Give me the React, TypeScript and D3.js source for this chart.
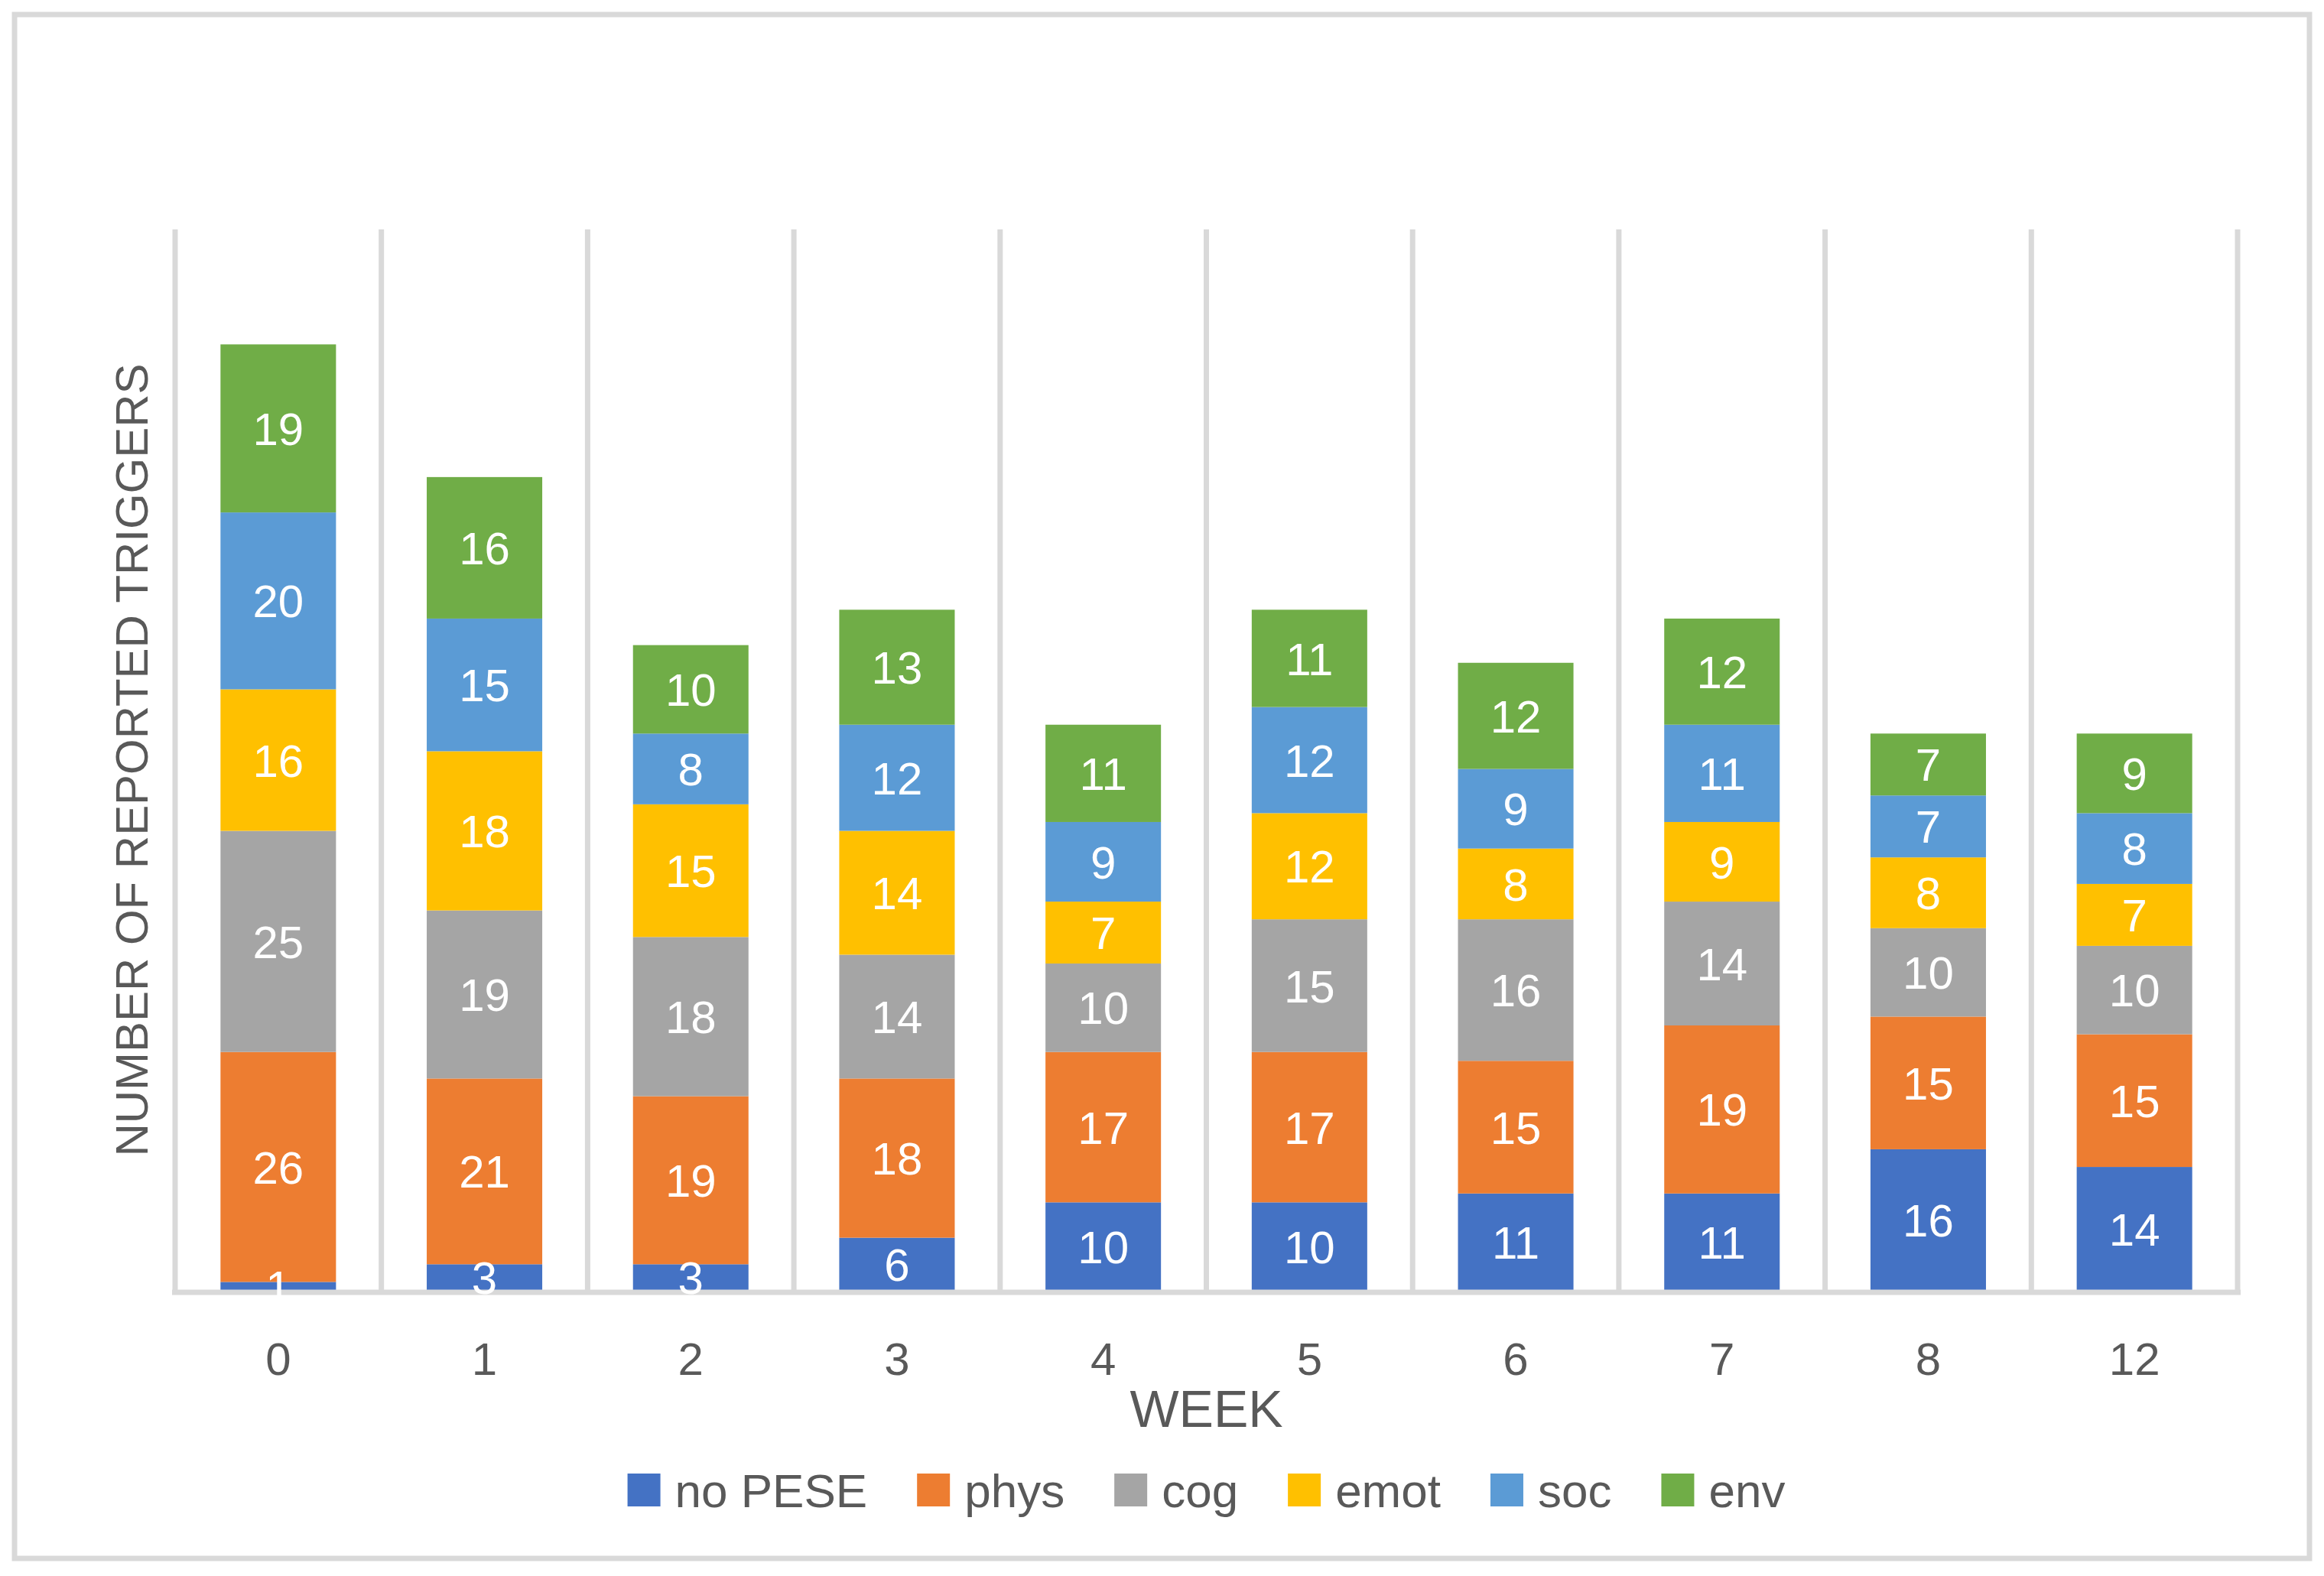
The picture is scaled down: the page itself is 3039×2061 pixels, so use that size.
import * as d3 from "d3";
import { useRef, useLayoutEffect, useState } from "react";

// chart values
const weeks = ["0", "1", "2", "3", "4", "5", "6", "7", "8", "12"];
const seriesNames = ["no PESE", "phys", "cog", "emot", "soc", "env"];
const seriesColors = ["#4472C4", "#ED7D31", "#A5A5A5", "#FFC000", "#5B9BD5", "#70AD47"];

const noPese = [1, 3, 3, 6, 10, 10, 11, 11, 16, 14];
const phys = [26, 21, 19, 18, 17, 17, 15, 19, 15, 15];
const cog = [25, 19, 18, 14, 10, 15, 16, 14, 10, 10];
const emot = [16, 18, 15, 14, 7, 12, 8, 9, 8, 7];
const soc = [20, 15, 8, 12, 9, 12, 9, 11, 7, 8];
const env = [19, 16, 10, 13, 11, 11, 12, 12, 7, 9];

const yMax = 120;
const xTitle = "WEEK";
const yTitle = "NUMBER OF REPORTED TRIGGERS";

const width = 3039;
const height = 2061;
const marginLeft = 229;
const marginRight = 113;
const marginTop = 300;
const marginBottom = 373;

const font = "'Liberation Sans Narrow', 'Liberation Sans', 'Open Sans', sans-serif";
const gridColor = "#D9D9D9";
const textColor = "#595959";

export default function App() {
  const legendRef = useRef<SVGGElement | null>(null);
  const [legendX, setLegendX] = useState<number[]>(seriesNames.map((_, i) => 810 + i * 260));

  const allSeries = [noPese, phys, cog, emot, soc, env];
  const table = weeks.map((w, i) => {
    const row: Record<string, number | string> = { week: w };
    seriesNames.forEach((s, j) => (row[s] = allSeries[j][i]));
    return row;
  });
  const stacked = d3.stack<Record<string, number | string>>().keys(seriesNames)(table as any);

  const x = d3
    .scaleBand()
    .domain(weeks)
    .range([marginLeft, width - marginRight])
    .paddingInner(0.44)
    .paddingOuter(0.22);
  const band = d3.scaleBand().domain(weeks).range([marginLeft, width - marginRight]);

  const y = d3.scaleLinear().domain([0, yMax]).range([height - marginBottom, marginTop]);

  const swatch = 43;
  const swGap = 19;
  const itemGap = 65;

  useLayoutEffect(() => {
    if (!legendRef.current) return;
    const texts = Array.from(legendRef.current.querySelectorAll("text")) as SVGTextElement[];
    const widths = texts.map((t) => t.getComputedTextLength());
    const total = d3.sum(widths) + seriesNames.length * (swatch + swGap) + (seriesNames.length - 1) * itemGap;
    let cx = (marginLeft + width - marginRight) / 2 - total / 2;
    const xs: number[] = [];
    widths.forEach((w) => {
      xs.push(cx);
      cx += swatch + swGap + w + itemGap;
    });
    const changed = xs.some((v, i) => Math.abs(v - legendX[i]) > 0.5);
    if (changed) setLegendX(xs);
  });

  const baseY = y(0);

  return (
    <svg
      width={width}
      height={height}
      style={{ position: "absolute", left: 0, top: 0, background: "#fff" }}
      fontFamily={font}
    >
      <rect x={0} y={0} width={width} height={height} fill="#fff" />
      {/* outer chart border */}
      <rect x={19} y={19} width={3001} height={2019} fill="none" stroke={gridColor} strokeWidth={7} />

      {/* vertical gridlines between categories */}
      <g stroke={gridColor} strokeWidth={7}>
        {weeks.map((w) => (
          <line key={w} x1={band(w)!} x2={band(w)!} y1={marginTop} y2={baseY} />
        ))}
        <line x1={width - marginRight} x2={width - marginRight} y1={marginTop} y2={baseY} />
      </g>

      {/* bars */}
      {stacked.map((layer, j) => (
        <g key={layer.key} fill={seriesColors[j]}>
          {layer.map((d, i) => (
            <rect
              key={i}
              x={x(weeks[i])!}
              width={x.bandwidth()}
              y={y(d[1])}
              height={y(d[0]) - y(d[1])}
            />
          ))}
        </g>
      ))}

      {/* baseline */}
      <line x1={marginLeft - 4} x2={width - marginRight + 4} y1={baseY + 2} y2={baseY + 2} stroke={gridColor} strokeWidth={7} />

      {/* data labels */}
      {stacked.map((layer, j) => (
        <g key={layer.key} fill="#fff" fontSize={60} textAnchor="middle">
          {layer.map((d, i) => (
            <text key={i} x={x(weeks[i])! + x.bandwidth() / 2} y={(y(d[0]) + y(d[1])) / 2} dy="0.36em">
              {allSeries[j][i]}
            </text>
          ))}
        </g>
      ))}

      {/* category tick labels */}
      <g fill={textColor} fontSize={60} textAnchor="middle">
        {weeks.map((w) => (
          <text key={w} x={band(w)! + band.bandwidth() / 2} y={1776} dy="0.36em">
            {w}
          </text>
        ))}
      </g>

      {/* axis titles */}
      <text x={(marginLeft + width - marginRight) / 2} y={1842} dy="0.36em" fill={textColor} fontSize={68} textAnchor="middle">
        {xTitle}
      </text>
      <text
        transform={`translate(171,${(marginTop + baseY) / 2}) rotate(-90)`}
        dy="0.36em"
        fill={textColor}
        fontSize={60}
        textAnchor="middle"
        textLength={1037}
        lengthAdjust="spacingAndGlyphs"
      >
        {yTitle}
      </text>

      {/* legend */}
      <g ref={legendRef} fontSize={62} fill={textColor}>
        {seriesNames.map((s, i) => (
          <g key={s} transform={`translate(${legendX[i]},1927)`}>
            <rect width={swatch} height={swatch} fill={seriesColors[i]} />
            <text x={swatch + swGap} y={swatch / 2} dy="0.36em">
              {s}
            </text>
          </g>
        ))}
      </g>
    </svg>
  );
}
